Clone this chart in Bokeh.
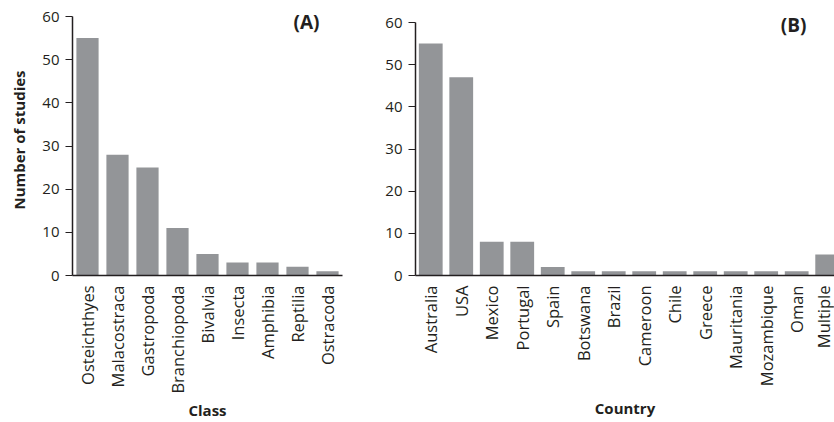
import numpy as np
from bokeh.plotting import figure
from bokeh.layouts import row
from bokeh.models import Range1d, FixedTicker, Label
from bokeh.embed import file_html
from bokeh.resources import INLINE

# Number of studies per taxonomic class
classes = ["Osteichthyes", "Malacostraca", "Gastropoda", "Branchiopoda",
           "Bivalvia", "Insecta", "Amphibia", "Reptilia", "Ostracoda"]
class_counts = [55, 28, 25, 11, 5, 3, 3, 2, 1]

# Number of studies per country
countries = ["Australia", "USA", "Mexico", "Portugal", "Spain", "Botswana",
             "Brazil", "Cameroon", "Chile", "Greece", "Mauritania",
             "Mozambique", "Oman", "Multiple"]
country_counts = [55, 47, 8, 8, 2, 1, 1, 1, 1, 1, 1, 1, 1, 5]

y_ticks = [0, 10, 20, 30, 40, 50, 60]

FONT = "Open Sans"
BAR = "#939598"
INK = "#231f20"


def panel(names, counts, width, y_end, left, right, x_end, bar_width,
          tag, tag_x, tag_y, xlabel, xlabel_gap, ylabel=None):
    xs = np.arange(len(names)) + 0.5
    p = figure(width=width, height=422, output_backend="svg",
               toolbar_location=None,
               x_range=Range1d(0, x_end), y_range=Range1d(0, y_end),
               min_border_left=left, min_border_right=right,
               min_border_top=4, min_border_bottom=147)
    p.vbar(x=xs, top=counts, width=bar_width, color=BAR, line_color=None)

    p.outline_line_color = None
    p.xgrid.visible = False
    p.ygrid.visible = False

    xa = p.xaxis[0]
    xa.ticker = FixedTicker(ticks=list(xs))
    xa.major_label_overrides = {float(x): n for x, n in zip(xs, names)}
    xa.major_label_orientation = np.pi / 2
    xa.major_tick_line_color = None
    xa.minor_tick_line_color = None
    xa.axis_line_color = INK
    xa.axis_line_width = 1.5
    xa.major_label_text_font = FONT
    xa.major_label_text_font_size = "16.5px"
    xa.major_label_text_color = INK
    xa.major_label_standoff = 4
    xa.axis_label = xlabel
    xa.axis_label_text_font = FONT
    xa.axis_label_text_font_style = "bold"
    xa.axis_label_text_font_size = "15px"
    xa.axis_label_text_color = INK
    xa.axis_label_standoff = xlabel_gap

    ya = p.yaxis[0]
    ya.ticker = FixedTicker(ticks=y_ticks)
    ya.bounds = (0, 60)
    ya.minor_tick_line_color = None
    ya.major_tick_in = 0
    ya.major_tick_out = 7
    ya.major_tick_line_color = INK
    ya.axis_line_color = INK
    ya.axis_line_width = 1.5
    ya.major_label_text_font = FONT
    ya.major_label_text_font_size = "15px"
    ya.major_label_text_color = INK
    ya.major_label_standoff = 6
    if ylabel:
        ya.axis_label = ylabel
        ya.axis_label_text_font = FONT
        ya.axis_label_text_font_style = "bold"
        ya.axis_label_text_font_size = "15px"
        ya.axis_label_text_color = INK
        ya.axis_label_standoff = 10

    p.add_layout(Label(x=tag_x, y=tag_y, text=tag, text_font=FONT,
                       text_font_style="bold", text_font_size="19px",
                       text_color=INK, text_align="center",
                       text_baseline="middle"))
    return p


pa = panel(classes, class_counts, width=350, y_end=62.78, left=72, right=8,
           x_end=len(classes), bar_width=0.74, tag="(A)", tag_x=7.8,
           tag_y=58.8, xlabel="Class", xlabel_gap=3,
           ylabel="Number of studies")
pb = panel(countries, country_counts, width=484, y_end=64.27, left=65, right=0,
           x_end=13.74, bar_width=0.78, tag="(B)", tag_x=12.4,
           tag_y=59.5, xlabel="Country", xlabel_gap=9)

layout = row(pa, pb)
open("out.html", "w").write(file_html(layout, INLINE))
